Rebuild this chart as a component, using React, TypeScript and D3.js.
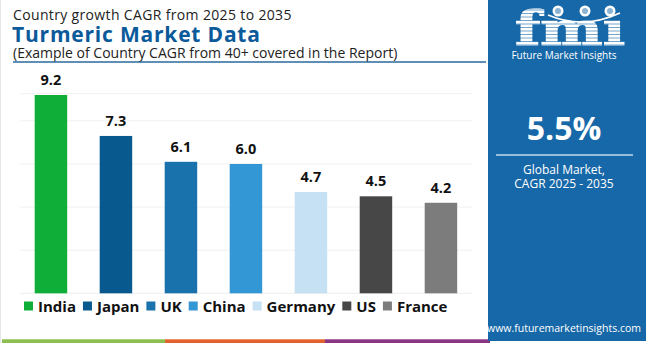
import React from "react";
import * as d3 from "d3";

const countries = ["India", "Japan", "UK", "China", "Germany", "US", "France"];
const cagrValues = [9.2, 7.3, 6.1, 6.0, 4.7, 4.5, 4.2];
const barColors = ["#0fae38", "#085a8e", "#1a72ad", "#3396d5", "#c5e1f3", "#474747", "#7c7c7c"];
const gridTicks = [2, 4, 6, 8];
const yMax = 9.26;
const globalCagr = "5.5%";
const titleTop = "Country growth CAGR from 2025 to 2035";
const titleMain = "Turmeric Market Data";
const titleSub = "(Example of Country CAGR from 40+ covered in the Report)";

const W = 650;
const H = 343;
const FONT = "'Open Sans', 'DejaVu Sans', sans-serif";
const PANEL = "#1768a8";

function measure(text: string, font: string): number {
  const c = document.createElement("canvas");
  const ctx = c.getContext("2d");
  if (!ctx) return text.length * 8;
  ctx.font = font;
  return ctx.measureText(text).width;
}

export default function App() {
  const x = d3.scaleBand<string>().domain(countries).range([2.2, 489.7]).paddingInner(0.5).paddingOuter(0.5);
  const y = d3.scaleLinear().domain([0, yMax]).range([293.3, 93.7]);

  // legend layout
  const legendFontSize = 15;
  const legendFont = `700 ${legendFontSize}px 'Open Sans'`;
  const sq = 9;
  let cursor = 24;
  const legendItems = countries.map((c, i) => {
    const w = measure(c, legendFont);
    const item = { name: c, color: barColors[i], x: cursor, w };
    cursor += sq + 5 + w + 7;
    return item;
  });

  const logoLines = d3.range(10, 47, 3.5);

  return (
    <svg width={W} height={H} style={{ position: "absolute", left: 0, top: 0, background: "#fff" }}>
      <rect x={0} y={0} width={W} height={H} fill="#fff" />
      <line x1={0.5} y1={0} x2={0.5} y2={H} stroke="#e6e6e6" strokeWidth={1} />

      {/* titles */}
      <text x={13} y={19.5} fontFamily={FONT} fontSize={14} letterSpacing={0.35} fill="#222">{titleTop}</text>
      <text x={12} y={41.5} fontFamily={FONT} fontSize={21} fontWeight={700} letterSpacing={0.8} fill="#0b5a9a">{titleMain}</text>
      <text x={13} y={57.5} fontFamily={FONT} fontSize={14} fill="#222">{titleSub}</text>
      <line x1={13} y1={62} x2={486} y2={62} stroke="#2a6a9e" strokeWidth={1.3} />

      {/* gridlines */}
      {[...gridTicks, yMax].map((t) => (
        <line key={t} x1={20} x2={472} y1={y(t)} y2={y(t)} stroke="#f0f0f0" strokeWidth={1} />
      ))}
      <line x1={20} x2={472} y1={y(0)} y2={y(0)} stroke="#eeeeee" strokeWidth={1} />

      {/* bars */}
      {countries.map((c, i) => (
        <g key={c}>
          <rect x={x(c)} y={y(cagrValues[i])} width={x.bandwidth()} height={y(0) - y(cagrValues[i])} fill={barColors[i]} />
          <text
            x={(x(c) as number) + x.bandwidth() / 2}
            y={y(cagrValues[i]) - 10}
            textAnchor="middle"
            fontFamily={FONT}
            fontSize={14.5}
            fontWeight={700}
            fill="#111"
          >
            {cagrValues[i].toFixed(1)}
          </text>
        </g>
      ))}

      {/* legend */}
      {legendItems.map((it) => (
        <g key={it.name}>
          <rect x={it.x} y={301.5} width={sq} height={sq} fill={it.color} />
          <text x={it.x + sq + 5} y={311.5} fontFamily={FONT} fontSize={legendFontSize} fontWeight={700} fill="#111">
            {it.name}
          </text>
        </g>
      ))}

      {/* bottom stripes */}
      <rect x={2} y={339.3} width={163} height={4} fill="#8cbf4f" />
      <rect x={165} y={339.3} width={160} height={4} fill="#e2612e" />
      <rect x={325} y={339.3} width={165} height={4} fill="#8a3484" />

      {/* right panel */}
      <rect x={488} y={0} width={158} height={341} fill={PANEL} />

      {/* logo */}
      <g>
        <text
          x={515}
          y={45}
          fontFamily="'DejaVu Serif', serif"
          fontSize={46}
          fontWeight={700}
          fill="#fff"
          stroke="#fff"
          strokeWidth={1.2}
          textLength={110}
          lengthAdjust="spacingAndGlyphs"
        >
          fmi
        </text>
        <rect x={604} y={5} width={24} height={14} fill={PANEL} />
        {logoLines.map((ly) => (
          <line key={ly} x1={505} x2={632} y1={ly} y2={ly} stroke={PANEL} strokeWidth={0.6} />
        ))}
        {[558, 585, 610].map((cx) => (
          <g key={cx}>
            <circle cx={cx} cy={11} r={5.5} fill="#fff" />
            <circle cx={cx} cy={11} r={3} fill={PANEL} opacity={0.5} />
          </g>
        ))}
        <path d="M548,15 Q583,30 620,13" fill="none" stroke="#fff" strokeWidth={1.6} />
        <text x={564} y={58.5} textAnchor="middle" fontFamily={FONT} fontSize={10} fill="#fff">
          Future Market Insights
        </text>
      </g>

      <text x={564} y={140} textAnchor="middle" fontFamily={FONT} fontSize={32} fontWeight={700} fill="#fff">
        {globalCagr}
      </text>
      <line x1={496} x2={633} y1={155} y2={155} stroke="#fff" strokeOpacity={0.75} strokeWidth={1.5} />
      <text x={564} y={173.5} textAnchor="middle" fontFamily={FONT} fontSize={12} fill="#fff">
        Global Market,
      </text>
      <text x={564} y={188} textAnchor="middle" fontFamily={FONT} fontSize={12} fill="#fff">
        CAGR 2025 - 2035
      </text>
      <text x={564} y={332} textAnchor="middle" fontFamily={FONT} fontSize={10.5} fill="#fff">
        www.futuremarketinsights.com
      </text>
    </svg>
  );
}
